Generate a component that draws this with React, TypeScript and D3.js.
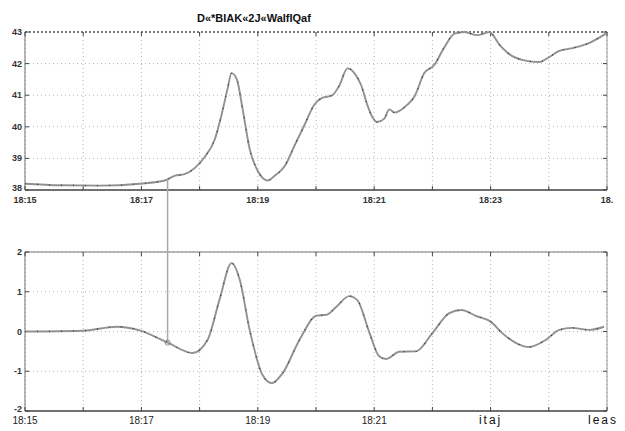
import React from 'react';
import * as d3 from 'd3';

const width = 625;
const height = 431;

// minutes after 18:15
const topTimes = [0, 0.6, 1.29, 1.97, 2.4, 2.57, 2.74, 2.92, 3.09, 3.26, 3.38, 3.48, 3.55, 3.64, 3.74, 3.86, 4.0, 4.17, 4.29, 4.46, 4.63, 4.8, 4.97, 5.09, 5.28, 5.4, 5.54, 5.66, 5.78, 5.88, 5.97, 6.05, 6.17, 6.26, 6.35, 6.43, 6.57, 6.69, 6.86, 7.03, 7.2, 7.38, 7.55, 7.77, 7.98, 8.15, 8.32, 8.58, 8.83, 9.0, 9.18, 9.43, 9.69, 9.98];
const topValues = [38.2, 38.15, 38.14, 38.2, 38.3, 38.45, 38.5, 38.7, 39.05, 39.6, 40.4, 41.2, 41.7, 41.5, 40.55, 39.3, 38.6, 38.3, 38.45, 38.75, 39.4, 40.05, 40.7, 40.9, 41.0, 41.3, 41.85, 41.7, 41.3, 40.7, 40.3, 40.15, 40.25, 40.55, 40.45, 40.5, 40.7, 40.95, 41.7, 41.95, 42.5, 42.95, 43.0, 42.9, 43.0, 42.6, 42.3, 42.1, 42.05, 42.2, 42.4, 42.5, 42.65, 42.95];

const bottomTimes = [0, 0.99, 1.58, 1.97, 2.45, 2.88, 3.14, 3.34, 3.55, 3.69, 3.86, 4.08, 4.24, 4.43, 4.72, 5.01, 5.18, 5.35, 5.57, 5.71, 5.92, 6.09, 6.21, 6.43, 6.72, 7.0, 7.29, 7.5, 7.75, 8.01, 8.2, 8.44, 8.66, 8.95, 9.18, 9.4, 9.69, 9.95];
const bottomValues = [0.0, 0.02, 0.12, 0.03, -0.28, -0.54, -0.2, 0.79, 1.72, 1.3, 0.04, -1.09, -1.3, -1.04, -0.2, 0.4, 0.42, 0.62, 0.89, 0.79, -0.04, -0.63, -0.69, -0.51, -0.5, -0.04, 0.46, 0.54, 0.39, 0.24, -0.04, -0.29, -0.39, -0.21, 0.04, 0.09, 0.04, 0.12];

const topYTicks = [38, 39, 40, 41, 42, 43];
const bottomYTicks = [-2, -1, 0, 1, 2];
const gridMinutes = [0, 1, 2, 3, 4, 5, 6, 7, 8, 9, 10];
const labelMinutes = [0, 2, 4, 6, 8, 10];
const topTickLabels = ['18:15', '18:17', '18:19', '18:21', '18:23', '18.'];
const bottomTickLabels = ['18:15', '18:17', '18:19', '18:21'];
const bottomExtraLabels = ['itaj', 'leas'];
const cursorMinute = 2.45;

const title = 'D«*BIAK«2J«WalfIQaf';

const x = d3.scaleLinear().domain([0, 10]).range([25, 607]);
const yTop = d3.scaleLinear().domain([38, 43]).range([190, 32]);
const yBot = d3.scaleLinear().domain([-2, 2]).range([411, 252]);

const font = 'Arial, "Liberation Sans", sans-serif';

function Panel({ times, values, y, yTicks, topDotted }: any) {
  const line = d3.line<number>()
    .x((d, i) => x(times[i]))
    .y((d) => y(d))
    .curve(d3.curveMonotoneX);
  const [y0, y1] = y.range();
  return (
    <g>
      {/* grid */}
      {gridMinutes.map((m) => (
        <line key={'v' + m} x1={x(m)} x2={x(m)} y1={y1} y2={y0}
          stroke="#b5b5b5" strokeWidth={1} strokeDasharray="1,3" />
      ))}
      {yTicks.map((t: number) => (
        <line key={'h' + t} x1={x(0)} x2={x(10)} y1={y(t)} y2={y(t)}
          stroke="#b5b5b5" strokeWidth={1} strokeDasharray="1,3" />
      ))}
      {/* frame */}
      <line x1={x(0)} x2={x(10)} y1={y1} y2={y1}
        stroke={topDotted ? '#555' : '#777'} strokeWidth={topDotted ? 1.5 : 1.2}
        strokeDasharray={topDotted ? '2,2' : undefined} />
      <line x1={x(0)} x2={x(10)} y1={y0} y2={y0} stroke="#444" strokeWidth={1.3} />
      <line x1={x(0)} x2={x(0)} y1={y1} y2={y0} stroke="#888" strokeWidth={1.2} />
      <line x1={x(10)} x2={x(10)} y1={y1} y2={y0} stroke="#999" strokeWidth={1} />
      {gridMinutes.map((m) => (
        <g key={'t' + m}>
          <line x1={x(m)} x2={x(m)} y1={y1} y2={y1 + 4} stroke="#444" />
          <line x1={x(m)} x2={x(m)} y1={y0} y2={y0 - 4} stroke="#444" />
        </g>
      ))}
      {yTicks.map((t: number, i: number) => (
        <g key={'yl' + t}>
          <line x1={x(0)} x2={x(0) + 4} y1={y(t)} y2={y(t)} stroke="#444" />
          <line x1={x(10)} x2={x(10) - 4} y1={y(t)} y2={y(t)} stroke="#444" />
          <text x={x(0) - 3} y={y(t) + (i === 0 ? 1 : 3)} textAnchor="end" fontSize={9}
            fontWeight="bold" fill="#333" fontFamily={font}>{t}</text>
        </g>
      ))}
      {/* series */}
      <path d={line(values) || ''} fill="none" stroke="#919191" strokeWidth={1.9} />
      <path d={line(values) || ''} fill="none" stroke="#333" strokeWidth={1.2}
        strokeDasharray="1,11" />
    </g>
  );
}

export default function App() {
  const topAtCursor = d3.interpolateNumber(
    topValues[d3.bisectLeft(topTimes, cursorMinute) - 1],
    topValues[d3.bisectLeft(topTimes, cursorMinute)]
  )(0.5);
  const botAtCursor = bottomValues[bottomTimes.indexOf(cursorMinute)];
  return (
    <svg width={width} height={height}
      style={{ position: 'absolute', left: 0, top: 0, background: '#fff' }}>
      <rect width={width} height={height} fill="#fff" />
      <text x={197} y={22} fontSize={11} fontWeight="bold" fill="#111" fontFamily={font}>{title}</text>
      <Panel times={topTimes} values={topValues} y={yTop} yTicks={topYTicks} topDotted />
      <Panel times={bottomTimes} values={bottomValues} y={yBot} yTicks={bottomYTicks} />
      {/* cursor */}
      <line x1={x(cursorMinute)} x2={x(cursorMinute)} y1={yTop(topAtCursor)} y2={yBot(botAtCursor)}
        stroke="#a8a8a8" strokeWidth={1.5} />
      <circle cx={x(cursorMinute)} cy={yBot(botAtCursor)} r={2.5} fill="none" stroke="#888" />
      {topTickLabels.map((l, i) => (
        <text key={'tt' + i} x={x(labelMinutes[i])} y={203} textAnchor="middle"
          fontSize={9} fontWeight="bold" fill="#333" fontFamily={font}>{l}</text>
      ))}
      {bottomTickLabels.map((l, i) => (
        <text key={'bt' + i} x={x(labelMinutes[i])} y={424} textAnchor="middle"
          fontSize={10} fill="#222" fontFamily={font}>{l}</text>
      ))}
      {bottomExtraLabels.map((l, i) => (
        <text key={'be' + i} x={x(labelMinutes[4 + i]) - (i === 1 ? 4 : 0)} y={424} textAnchor="middle"
          fontSize={12} letterSpacing={2} fill="#111" fontFamily={font}>{l}</text>
      ))}
    </svg>
  );
}
